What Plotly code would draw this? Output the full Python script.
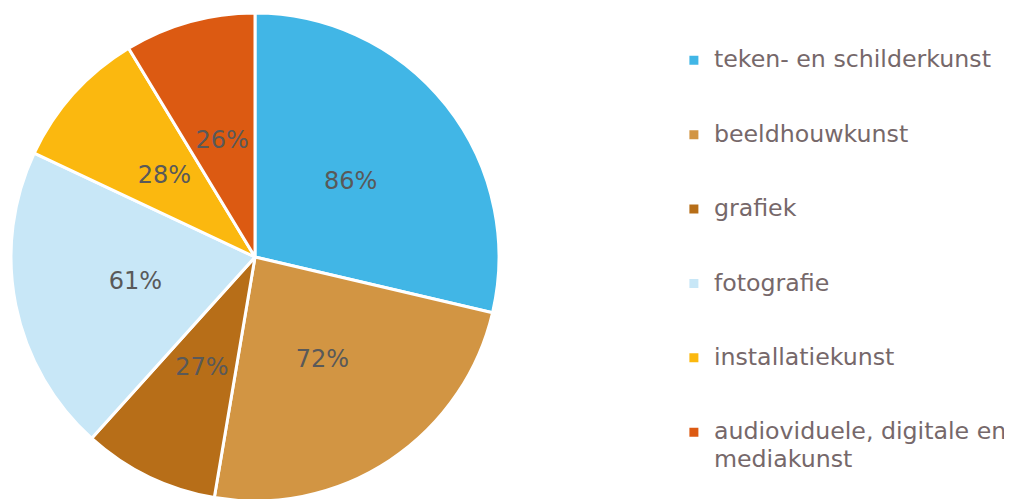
import plotly.graph_objects as go

# data
categories = ['teken- en schilderkunst', 'beeldhouwkunst', 'grafiek', 'fotografie',
              'installatiekunst', 'audioviduele, digitale en<br>mediakunst']
shares = [86, 72, 27, 61, 28, 26]
colors = ['#41B6E6', '#D29543', '#B76E18', '#C8E7F7', '#FBB80F', '#DC5A12']

# legend entries: text at ~24px, padded to three lines so entries are spaced like the original
legend_labels = []
for c in categories:
    lines = c.split('<br>')
    txt = "<span style='font-size:23.7px'>" + lines[0] + "</span>"
    for extra in lines[1:]:
        # wrapped line: push it down a bit, the legend line step is tighter than the text
        txt += "<br><span style='font-size:23.7px;baseline-shift:-4px'>" + extra + "</span>"
    legend_labels.append(txt + '<br>' * (3 - len(lines)))

fig = go.Figure()

# the pie itself
fig.add_trace(go.Pie(
    labels=legend_labels,
    values=shares,
    textinfo='none',
    marker=dict(colors=colors, line=dict(color='white', width=3)),
    sort=False,
    direction='clockwise',
    rotation=0,
    domain=dict(x=[0.00296, 0.48518], y=[0.01202, 0.98998]),
    hoverinfo='label+value',
))

# transparent ring on top, only used to put the value labels halfway out on every slice
fig.add_trace(go.Pie(
    labels=legend_labels,
    values=shares,
    hole=0.58,
    texttemplate='%{value}%',
    textposition='inside',
    insidetextorientation='horizontal',
    textfont=dict(family='Verdana, DejaVu Sans', size=24, color='#595959'),
    marker=dict(colors=['rgba(0,0,0,0)'] * len(shares), line=dict(width=0)),
    sort=False,
    direction='clockwise',
    rotation=0,
    showlegend=False,
    hoverinfo='skip',
    domain=dict(x=[0.0915, 0.3966], y=[0.1916, 0.8104]),
))

fig.update_layout(
    width=1012, height=499,
    margin=dict(l=0, r=0, t=0, b=0),
    paper_bgcolor='white',
    plot_bgcolor='white',
    showlegend=True,
    legend=dict(
        x=0.658, y=0.932, xanchor='left', yanchor='top',
        font=dict(family='Verdana, DejaVu Sans', size=18.3, color='#76686A'),
        valign='top',
        bgcolor='rgba(0,0,0,0)',
    ),
)

fig.write_html("out.html")
